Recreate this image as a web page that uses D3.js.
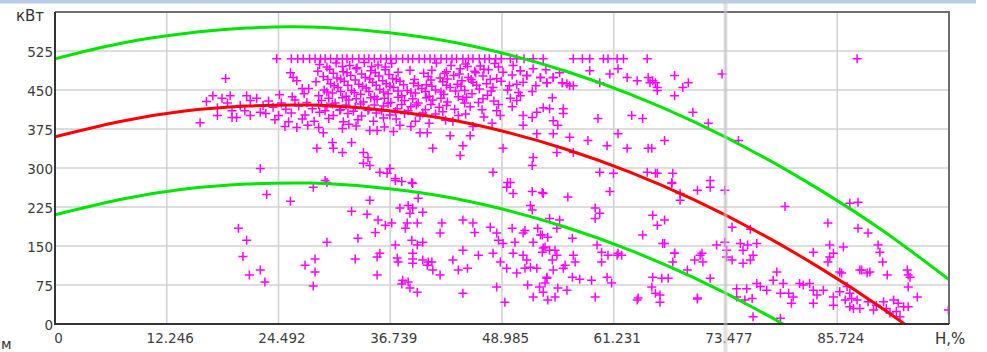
<!DOCTYPE html>
<html>
<head>
<meta charset="utf-8">
<script src="https://cdn.jsdelivr.net/npm/d3@7"></script>
<style>
  html, body { margin: 0; padding: 0; background: #fff; }
  svg { display: block; font-family: 'DejaVu Sans', sans-serif; }
</style>
</head>
<body>
<div id="chart"></div>
<script>
/* tick values and labels */
const xTicks = [0, 12.246, 24.492, 36.739, 48.985, 61.231, 73.477, 85.724];
const xTickLabels = ['0', '12.246', '24.492', '36.739', '48.985', '61.231', '73.477', '85.724'];
const yTicks = [0, 75, 150, 225, 300, 375, 450, 525];
const xMax = 97.97;
const yMax = 600;

/* fitted curves */
const curveH = [0, 7, 14, 21, 28, 35, 42, 49, 56, 63, 70, 77, 84, 91, 98];
const fitMid = [360, 389, 409, 419, 421, 413, 397, 371, 336, 292, 239, 177, 106, 26, -63];
const fitHigh = [510, 539, 558, 569, 571, 563, 547, 521, 486, 442, 389, 327, 256, 176, 85];
const fitLow = [210, 239, 259, 269, 271, 263, 247, 221, 186, 142, 89, 27, -44, -124, -213];

/* measured points: [H %, kW] */
const topRow = [24.3, 25.9, 26.6, 27.2, 27.9, 28.5, 29.1, 29.6, 30.2, 30.9, 31.5, 32.0, 32.6, 33.3,
  33.9, 34.4, 35.0, 35.7, 36.3, 36.8, 37.4, 38.1, 38.7, 39.2, 39.9, 40.5, 41.1, 41.6, 42.3, 42.9,
  43.5, 44.0, 44.7, 45.3, 45.8, 46.5, 47.1, 47.6, 48.3, 48.9, 49.9, 50.6, 51.4, 52.4, 53.5, 56.8,
  57.8, 58.6, 60.1, 60.6, 61.6, 62.3, 64.9, 87.9];
const topRowKw = 510;

const cluster = [
  [29.0,499],[30.8,502],[32.3,497],[33.9,503],[35.4,498],[36.9,501],[41.8,502],[43.4,497],[45.0,500],[46.6,496],[48.2,501],
  [28.8,486],[30.1,490],[31.6,485],[33.0,491],[34.6,487],[36.2,489],[37.6,484],[41.3,488],[42.9,485],[44.4,491],[46.0,486],[47.5,489],[49.1,484],[51.0,487],[53.8,489],[55.3,483],
  [29.4,476],[30.9,473],[32.4,478],[34.0,474],[35.5,477],[37.0,472],[40.9,476],[42.2,473],[43.7,478],[45.3,474],[46.9,477],[48.4,472],[50.1,479],[51.7,478],[53.2,474],[54.6,474],
  [28.6,466],[30.2,462],[31.7,467],[33.3,461],[34.8,465],[36.3,462],[37.8,467],[39.3,463],[40.7,460],[42.5,466],[44.1,461],[45.8,465],[47.3,462],[48.9,467],[50.6,461],[53.9,464],[55.6,464],[56.8,458],
  [27.8,453],[29.5,450],[31.0,455],[32.5,449],[34.1,454],[35.6,451],[37.1,455],[38.6,449],[40.2,453],[41.7,450],[43.3,455],[44.9,449],[46.5,452],[48.0,455],[49.6,450],[52.3,447],[54.5,435],
  [24.6,441],[26.0,437],[27.3,443],[28.9,439],[30.4,444],[31.9,438],[33.5,442],[35.0,437],[36.5,443],[38.0,439],[39.5,444],[41.0,438],[42.6,442],[44.2,437],[45.7,443],[47.4,440],[49.9,434],[50.6,430],[51.0,439],
  [23.4,429],[24.8,425],[26.3,431],[27.6,426],[29.2,430],[30.7,425],[32.2,431],[33.8,427],[35.3,432],[36.8,426],[38.3,430],[39.8,425],[41.4,431],[43.0,427],[44.7,432],[46.4,426],[48.1,429],
  [23.9,417],[25.3,413],[26.7,419],[28.2,414],[29.8,418],[31.3,412],[32.9,417],[34.4,413],[36.0,419],[37.5,414],[39.0,418],[40.6,412],[42.1,417],[43.8,413],[45.5,418],[53.5,416],[54.2,414],[55.7,414],
  [23.1,405],[24.5,401],[25.9,406],[27.4,402],[29.0,407],[30.5,401],[32.1,405],[33.6,400],[35.2,406],[36.7,402],[38.3,405],[40.0,400],[41.7,404],[44.2,401],[48.4,410],[48.8,401],[51.3,401],[52.3,397],[52.8,407],[55.7,405],
  [24.1,393],[25.6,389],[27.1,394],[28.4,390],[30.0,395],[31.6,389],[33.2,393],[34.9,390],[37.4,394],[39.5,390],[42.8,392],[54.6,391],[55.1,382],[51.3,382],
  [25.2,380],[26.5,378],[27.7,382],[29.4,368],[31.5,376],[33.0,381],[34.5,372],[35.3,372],[36.1,379],[37.1,370],[37.8,382],[40.0,368],[40.8,368],[43.3,362],[45.5,362],
  [29.8,494],[31.5,495],[33.1,493],[34.7,495],[36.2,494],
  [30.5,482],[32.0,483],[33.6,481],[35.1,483],[36.6,480],[42.7,482],[44.3,481],[46.1,483],
  [29.9,470],[31.3,471],[32.9,469],[34.5,471],[35.9,468],[37.4,470],[41.2,469],[43.0,471],[44.6,468],[47.7,470],
  [30.6,458],[32.1,459],[33.7,457],[35.2,459],[36.7,457],[38.2,460],[39.8,458],[41.3,457],[42.9,459],[44.5,457],[46.2,459],
  [29.8,446],[31.3,447],[32.8,445],[34.4,447],[36.0,446],[37.6,448],[39.0,445],[40.6,447],[42.3,446],[43.9,448],
  [30.0,434],[31.5,435],[33.0,433],[34.6,435],[36.1,434],[37.6,436],[39.2,433],[40.7,435],[42.3,434],
  [28.9,422],[30.4,423],[31.9,421],[33.5,423],[35.0,421],[36.5,424],[38.0,422],[39.6,421],
  [29.6,410],[31.2,411],[32.7,409],[34.3,411],[35.8,410],[37.3,408],
  [38.9,488],[40.4,482],[45.2,495],[47.0,490],[48.6,494],[39.4,470],[45.6,470],[49.8,458],[51.3,465],[52.7,458],
  [47.8,448],[50.8,445],[45.1,436],[46.9,433],[48.6,422],[44.9,425],[41.2,422],[42.9,420],[46.8,412],[50.1,418],
  [38.7,410],[40.3,406],[42.5,408],[45.0,404],[47.0,398],[43.6,390],[41.0,386],[45.8,380],[47.9,386],[36.0,396],
  [39.0,380],[32.2,384],[28.9,378]
];

const scatter = [
  [15.9,387],[18.7,472],[17.3,439],[18.3,434],[19.2,439],[17.8,416],[19.4,410],[20.3,420],[21.0,439],[21.4,430],
  [22.1,434],[17.8,401],[19.4,397],[21.4,401],[19.9,397],[22.5,407],[20.8,410],[22.8,420],[18.9,425],[16.6,428],
  [28.7,338],[30.4,349],[30.5,338],[31.5,330],[32.5,349],[33.8,330],[34.3,320],[33.8,309],[34.5,305],[35.6,292],
  [36.4,290],[36.7,299],[37.3,280],[22.5,299],[29.8,272],[25.8,483],[26.1,474],[26.5,468],[27.1,453],
  [56.4,359],[58.4,353],[55.0,330],[56.8,330],[52.4,320],[52.3,305],[49.1,338],[48.0,292],[49.6,272],[39.1,272],
  [41.4,338],[44.4,324],[44.7,343],[52.8,366],[54.6,366],
  [58.6,487],[61.7,491],[60.8,481],[62.7,474],[63.8,468],[65.0,474],[65.2,464],[66.0,455],[59.7,464],[56.4,458],
  [55.6,464],[54.6,474],[59.5,395],[63.2,401],[64.4,395],[61.7,366],[60.5,343],[62.7,338],[65.0,338],[59.7,292],
  [61.2,290],[64.9,292],[66.0,290],[50.2,497],[51.0,487],[51.7,478],[52.4,491],[53.2,474],[53.9,464],[56.1,462],
  [73.1,481],[67.9,478],[65.5,468],[65.8,464],[69.4,464],[68.8,455],[66.0,449],[67.9,439],[69.9,407],[71.6,386],
  [74.9,353],[66.8,353],[65.4,338],[65.8,290],[67.7,290],[67.6,272],[71.8,276],
  [23.2,249],[28.3,263],[25.8,236],[20.1,184],[21.0,161],[20.6,130],[22.5,104],[21.3,94],[23.0,81],[27.4,113],
  [28.5,125],[28.5,100],[28.3,73],[29.8,157],[29.6,276],[32.5,217],[34.2,211],[34.5,238],[33.2,165],[32.9,125],
  [35.3,94],[35.3,129],[35.6,136],[35.1,176],[35.4,200],[36.2,190],[36.9,194],[37.3,152],[37.5,127],[37.6,119],
  [37.8,223],[38.7,228],[39.2,223],[38.9,213],[40.3,215],[39.8,242],[38.0,274],[39.2,270],[37.3,276],[38.6,194],
  [38.4,184],[39.7,194],[39.1,161],[39.7,152],[40.3,157],[39.2,136],[39.2,125],[39.2,117],[40.3,123],[40.9,119],
  [41.3,119],[40.8,113],[41.4,104],[42.2,94],[38.1,84],[38.7,81],[38.9,69],[39.7,61],[38.0,77],[42.4,194],
  [42.2,175],[44.7,200],[45.8,194],[46.0,176],[43.6,123],[44.2,104],[45.2,107],[46.4,132],[44.7,142],[44.7,59],
  [47.7,186],[48.4,175],[48.6,161],[49.1,155],[50.4,157],[48.0,136],[48.8,119],[49.5,107],[50.6,98],[48.4,71],
  [49.3,42],[50.1,184],[51.3,175],[51.5,180],[52.4,157],[52.9,184],[53.4,171],[53.7,148],[53.4,138],[50.2,136],
  [51.3,132],[51.7,123],[52.1,109],[52.8,107],[51.5,107],[51.8,75],[53.1,71],[53.9,88],[53.5,61],[52.4,52],
  [49.5,263],[50.2,251],[49.9,272],[52.3,255],[53.4,253],[52.1,228],[52.3,219],
  [53.5,251],[56.2,244],[60.8,255],[59.2,223],[59.7,213],[59.2,203],[54.2,203],[55.3,200],[55.0,184],[53.2,171],
  [54.0,167],[56.7,165],[53.5,146],[54.2,142],[54.8,142],[55.0,132],[54.5,123],[56.8,132],[57.0,119],[59.4,152],
  [59.9,138],[59.9,119],[60.6,132],[55.9,113],[55.7,107],[54.6,104],[53.9,90],[56.7,90],[57.5,86],[58.8,84],
  [60.5,90],[61.0,79],[61.6,132],[53.7,79],[55.1,69],[56.1,65],[54.8,52],[54.0,46],[59.2,52],[61.7,136],
  [62.1,132],[64.4,171],[66.8,155],[67.9,136],[67.7,119],[69.3,104],[68.5,251],[68.5,238],[70.4,257],[71.8,263],
  [73.4,257],[67.6,270],[65.5,209],[66.0,190],[66.8,200],[65.5,90],[66.5,88],[67.2,88],[65.4,71],[65.8,59],
  [66.3,56],[63.9,50],[70.4,50],[71.8,88],[70.1,123],[70.7,132],[71.0,119],[72.5,152],[73.4,157],[73.6,142],
  [73.6,129],[74.2,123],[75.1,155],[75.4,142],[75.9,152],[76.5,132],[76.9,155],[76.2,123],[75.4,117],[74.2,186],
  [76.2,182],[80.0,226],[84.7,194],[83.1,138],[84.9,152],[86.4,148],[84.9,129],[84.7,119],[85.3,136],[86.0,100],
  [86.2,98],[87.1,232],[88.0,234],[88.0,184],[89.1,175],[90.2,152],[90.4,138],[90.7,119],[88.4,104],[89.3,100],
  [91.2,94],[93.4,104],[93.5,94],[93.7,90],[93.5,71],[94.5,52],[97.9,27],[88.2,104],[89.0,98],[63.8,46],
  [66.3,42],[70.4,48],[66.6,155],[67.9,136],[70.9,136],
  [74.7,68],[75.8,68],[76.9,78],[77.3,72],[78.0,65],[78.7,84],[79.1,100],[79.8,78],[79.5,59],[80.4,59],
  [80.9,52],[81.6,78],[82.0,75],[82.7,78],[83.1,65],[83.5,56],[84.2,65],[85.3,52],[86.0,62],[86.8,72],
  [87.1,59],[87.3,49],[86.6,46],[87.9,46],[88.2,30],[89.1,43],[89.7,27],[90.0,36],[90.8,43],[91.1,30],
  [91.9,46],[92.4,40],[92.2,24],[93.0,33],[91.5,21],[93.5,33],[92.6,14],[87.1,33],[87.5,30],[74.7,52],
  [75.6,46],[76.4,49],[76.5,14],[79.5,11],[80.7,40],[83.1,40],[85.3,36]
];

const width = 987;
const height = 352;
const plot = { left: 55, right: 949, top: 12, bottom: 324 };

const svg = d3.select('#chart').append('svg')
  .attr('width', width)
  .attr('height', height);

/* top strip of the window */
svg.append('rect')
  .attr('x', 0).attr('y', 0)
  .attr('width', 976).attr('height', 3.5)
  .attr('fill', '#b9cde5');

/* Scale */
const xScale = d3.scaleLinear().domain([0, xMax]).range([plot.left, plot.right]);
const yScale = d3.scaleLinear().domain([0, yMax]).range([plot.bottom, plot.top]);

/* grid */
const grid = svg.append('g').attr('class', 'grid');
grid.selectAll('.vx')
  .data(xTicks.slice(1)).enter()
  .append('line')
  .attr('x1', d => xScale(d)).attr('x2', d => xScale(d))
  .attr('y1', plot.top).attr('y2', plot.bottom)
  .attr('stroke', '#d2d2d2').attr('stroke-width', 1.6);
grid.selectAll('.hy')
  .data(yTicks.slice(1).concat([yMax])).enter()
  .append('line')
  .attr('x1', plot.left).attr('x2', plot.right)
  .attr('y1', d => yScale(d)).attr('y2', d => yScale(d))
  .attr('stroke', '#d2d2d2').attr('stroke-width', 1.6);

/* Axis */
const xAxis = d3.axisBottom(xScale)
  .tickValues(xTicks)
  .tickFormat((d, i) => xTickLabels[i])
  .tickSize(0)
  .tickPadding(9);
const yAxis = d3.axisLeft(yScale)
  .tickValues(yTicks)
  .tickSize(0)
  .tickPadding(2);

svg.append('g')
  .attr('class', 'x axis')
  .attr('transform', `translate(3, ${plot.bottom})`)
  .call(xAxis)
  .call(g => g.select('.domain').remove())
  .call(g => g.selectAll('.tick text')
    .attr('fill', '#3c3c3c')
    .style('font-family', "'DejaVu Sans', sans-serif")
    .style('font-size', '13.5px'));

svg.append('g')
  .attr('class', 'y axis')
  .attr('transform', `translate(${plot.left}, 1)`)
  .call(yAxis)
  .call(g => g.select('.domain').remove())
  .call(g => g.selectAll('.tick text')
    .attr('fill', '#3c3c3c')
    .style('font-family', "'DejaVu Sans', sans-serif")
    .style('font-size', '13.5px'));

/* points */
svg.append('clipPath').attr('id', 'plot-clip')
  .append('rect')
  .attr('x', plot.left).attr('y', plot.top)
  .attr('width', plot.right - plot.left).attr('height', plot.bottom - plot.top);

const pts = topRow.map(h => [h, topRowKw]).concat(cluster, scatter);
const plus = 'M-4.5,0H4.5M0,-4.5V4.5';

svg.append('g')
  .attr('class', 'points')
  .attr('clip-path', 'url(#plot-clip)')
  .selectAll('path')
  .data(pts).enter()
  .append('path')
  .attr('d', plus)
  .attr('transform', d => `translate(${xScale(d[0])}, ${yScale(d[1])})`)
  .attr('fill', 'none')
  .attr('stroke', '#ff00ff')
  .attr('stroke-width', 1.5);

/* fitted curves */
const line = d3.line()
  .x(d => xScale(d[0]))
  .y(d => yScale(d[1]))
  .curve(d3.curveNatural);

const curves = [
  { values: fitHigh, color: '#00e600' },
  { values: fitLow, color: '#00e600' },
  { values: fitMid, color: '#ff0000' }
];

svg.append('g')
  .attr('class', 'lines')
  .attr('clip-path', 'url(#plot-clip)')
  .selectAll('path')
  .data(curves).enter()
  .append('path')
  .attr('d', c => line(curveH.map((h, i) => [h, c.values[i]])))
  .attr('fill', 'none')
  .attr('stroke', c => c.color)
  .attr('stroke-width', 3);

/* frame */
svg.append('path')
  .attr('d', `M${plot.left},${plot.top}H${plot.right}V${plot.bottom}`)
  .attr('fill', 'none')
  .attr('stroke', '#6e6e6e')
  .attr('stroke-width', 2);
svg.append('path')
  .attr('d', `M${plot.left},${plot.top}V${plot.bottom}H${plot.right}`)
  .attr('fill', 'none')
  .attr('stroke', '#333')
  .attr('stroke-width', 2);

/* double line artefact over 73.477 */
svg.append('rect')
  .attr('x', xScale(73.477) - 2).attr('y', 0)
  .attr('width', 4).attr('height', height)
  .attr('fill', '#c8c8c8')
  .attr('opacity', 0.55);

/* axis titles */
svg.append('text')
  .attr('x', 16).attr('y', 21)
  .attr('fill', '#333')
  .style('font-size', '15px')
  .text('кВт');
svg.append('text')
  .attr('x', 935).attr('y', 344)
  .attr('fill', '#333')
  .style('font-size', '15px')
  .text('Н,%');
svg.append('text')
  .attr('x', 1).attr('y', 349)
  .attr('fill', '#333')
  .style('font-size', '14px')
  .text('м');
</script>
</body>
</html>
